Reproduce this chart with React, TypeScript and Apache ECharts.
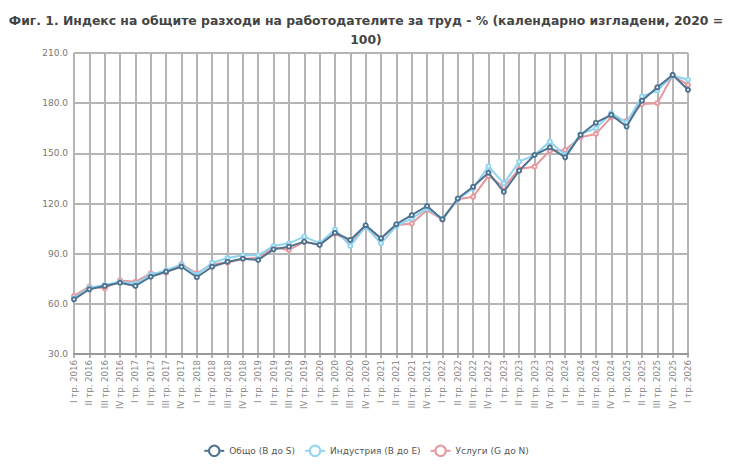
import React, { useEffect, useRef } from "react";
import * as echarts from "echarts";

const categories = [
  "I тр. 2016", "II тр. 2016", "III тр. 2016", "IV тр. 2016",
  "I тр. 2017", "II тр. 2017", "III тр. 2017", "IV тр. 2017",
  "I тр. 2018", "II тр. 2018", "III тр. 2018", "IV тр. 2018",
  "I тр. 2019", "II тр. 2019", "III тр. 2019", "IV тр. 2019",
  "I тр. 2020", "II тр. 2020", "III тр. 2020", "IV тр. 2020",
  "I тр. 2021", "II тр. 2021", "III тр. 2021", "IV тр. 2021",
  "I тр. 2022", "II тр. 2022", "III тр. 2022", "IV тр. 2022",
  "I тр. 2023", "II тр. 2023", "III тр. 2023", "IV тр. 2023",
  "I тр. 2024", "II тр. 2024", "III тр. 2024", "IV тр. 2024",
  "I тр. 2025", "II тр. 2025", "III тр. 2025", "IV тр. 2025",
  "I тр. 2026",
];

const total = [
  62.7, 68.7, 70.7, 72.6, 70.7, 76.2, 79.2, 82.2, 75.9, 82.2,
  85.2, 87.0, 86.2, 92.6, 94.2, 97.2, 95.2, 102.5, 98.2, 107.0,
  99.2, 107.6, 113.0, 118.5, 110.5, 123.0, 130.0, 138.4, 127.0, 139.6,
  149.0, 153.6, 147.6, 161.0, 168.3, 173.0, 166.0, 181.5, 189.5, 196.9,
  188.0,
];

const industry = [
  63.3, 69.7, 71.3, 73.2, 72.0, 77.5, 80.0, 83.5, 77.3, 84.6,
  87.4, 89.0, 89.0, 94.6, 96.2, 100.2, 96.3, 104.5, 94.6, 106.0,
  96.2, 106.5, 111.0, 117.0, 111.0, 122.5, 129.0, 142.2, 132.0, 145.0,
  149.0, 157.0, 149.0, 161.5, 165.0, 174.0, 168.5, 184.0, 187.5, 196.5,
  194.0,
];

const services = [
  64.7, 70.3, 69.3, 74.0, 73.2, 78.2, 78.6, 83.8, 78.2, 83.6,
  84.6, 87.0, 87.4, 93.8, 92.2, 97.0, 95.5, 102.0, 97.2, 106.0,
  99.0, 107.0, 108.0, 116.1, 110.5, 122.5, 124.0, 136.5, 130.0, 140.6,
  142.0, 151.6, 152.0, 159.6, 161.6, 171.6, 169.4, 179.5, 180.0, 196.5,
  191.0,
];

const seriesNames = ["Общо (B до S)", "Индустрия (B до E)", "Услуги (G до N)"];
const seriesColors = ["#4e7390", "#90d4f0", "#e8979d"];

export default function App() {
  const ref = useRef<HTMLDivElement>(null);

  useEffect(() => {
    document.body.style.margin = "0";
    if (!ref.current) return;
    const chart = echarts.init(ref.current, undefined, { renderer: "svg" });
    const datasets = [total, industry, services];
    chart.setOption({
      animation: false,
      backgroundColor: "#ffffff",
      title: {
        text:
          "Фиг. 1. Индекс на общите разходи на работодателите за труд - % (календарно изгладени, 2020 =\n100)",
        left: "center",
        top: 6,
        textStyle: {
          fontFamily: "DejaVu Sans",
          fontSize: 12.4,
          fontWeight: "bold",
          color: "#444444",
          lineHeight: 19,
        },
      },
      legend: {
        bottom: 5,
        left: "center",
        itemWidth: 20,
        itemHeight: 13,
        itemGap: 9,
        textStyle: { fontFamily: "DejaVu Sans", fontSize: 9, color: "#555555" },
        data: seriesNames,
      },
      grid: { left: 74, right: 44, top: 53, bottom: 113 },
      xAxis: {
        type: "category",
        data: categories,
        boundaryGap: false,
        axisLine: { show: true, lineStyle: { color: "#999999", width: 2 } },
        axisTick: { show: true, alignWithLabel: true, length: 4, lineStyle: { color: "#999999", width: 1.5 } },
        axisLabel: {
          rotate: 90,
          interval: 0,
          fontFamily: "DejaVu Sans",
          fontSize: 8.6,
          color: "#888888",
          margin: 6,
        },
        splitLine: { show: true, lineStyle: { color: "#b5b5b5", width: 2 } },
      },
      yAxis: {
        type: "value",
        min: 30,
        max: 210,
        interval: 30,
        axisLine: { show: false },
        axisTick: { show: false },
        axisLabel: {
          fontFamily: "DejaVu Sans",
          fontSize: 9,
          color: "#777777",
          margin: 6,
          formatter: (v: number) => v.toFixed(1),
        },
        splitLine: { show: true, lineStyle: { color: "#b5b5b5", width: 2 } },
      },
      series: datasets.map((d, i) => ({
        name: seriesNames[i],
        type: "line",
        data: d,
        symbol: "emptyCircle",
        symbolSize: 4,
        showSymbol: true,
        color: seriesColors[i],
        lineStyle: { width: 2, color: seriesColors[i] },
        itemStyle: { color: seriesColors[i], borderColor: seriesColors[i], borderWidth: 1.2 },
        z: 3 - i,
      })),
    });
    return () => chart.dispose();
  }, []);

  return <div ref={ref} style={{ width: 732, height: 467 }} />;
}
